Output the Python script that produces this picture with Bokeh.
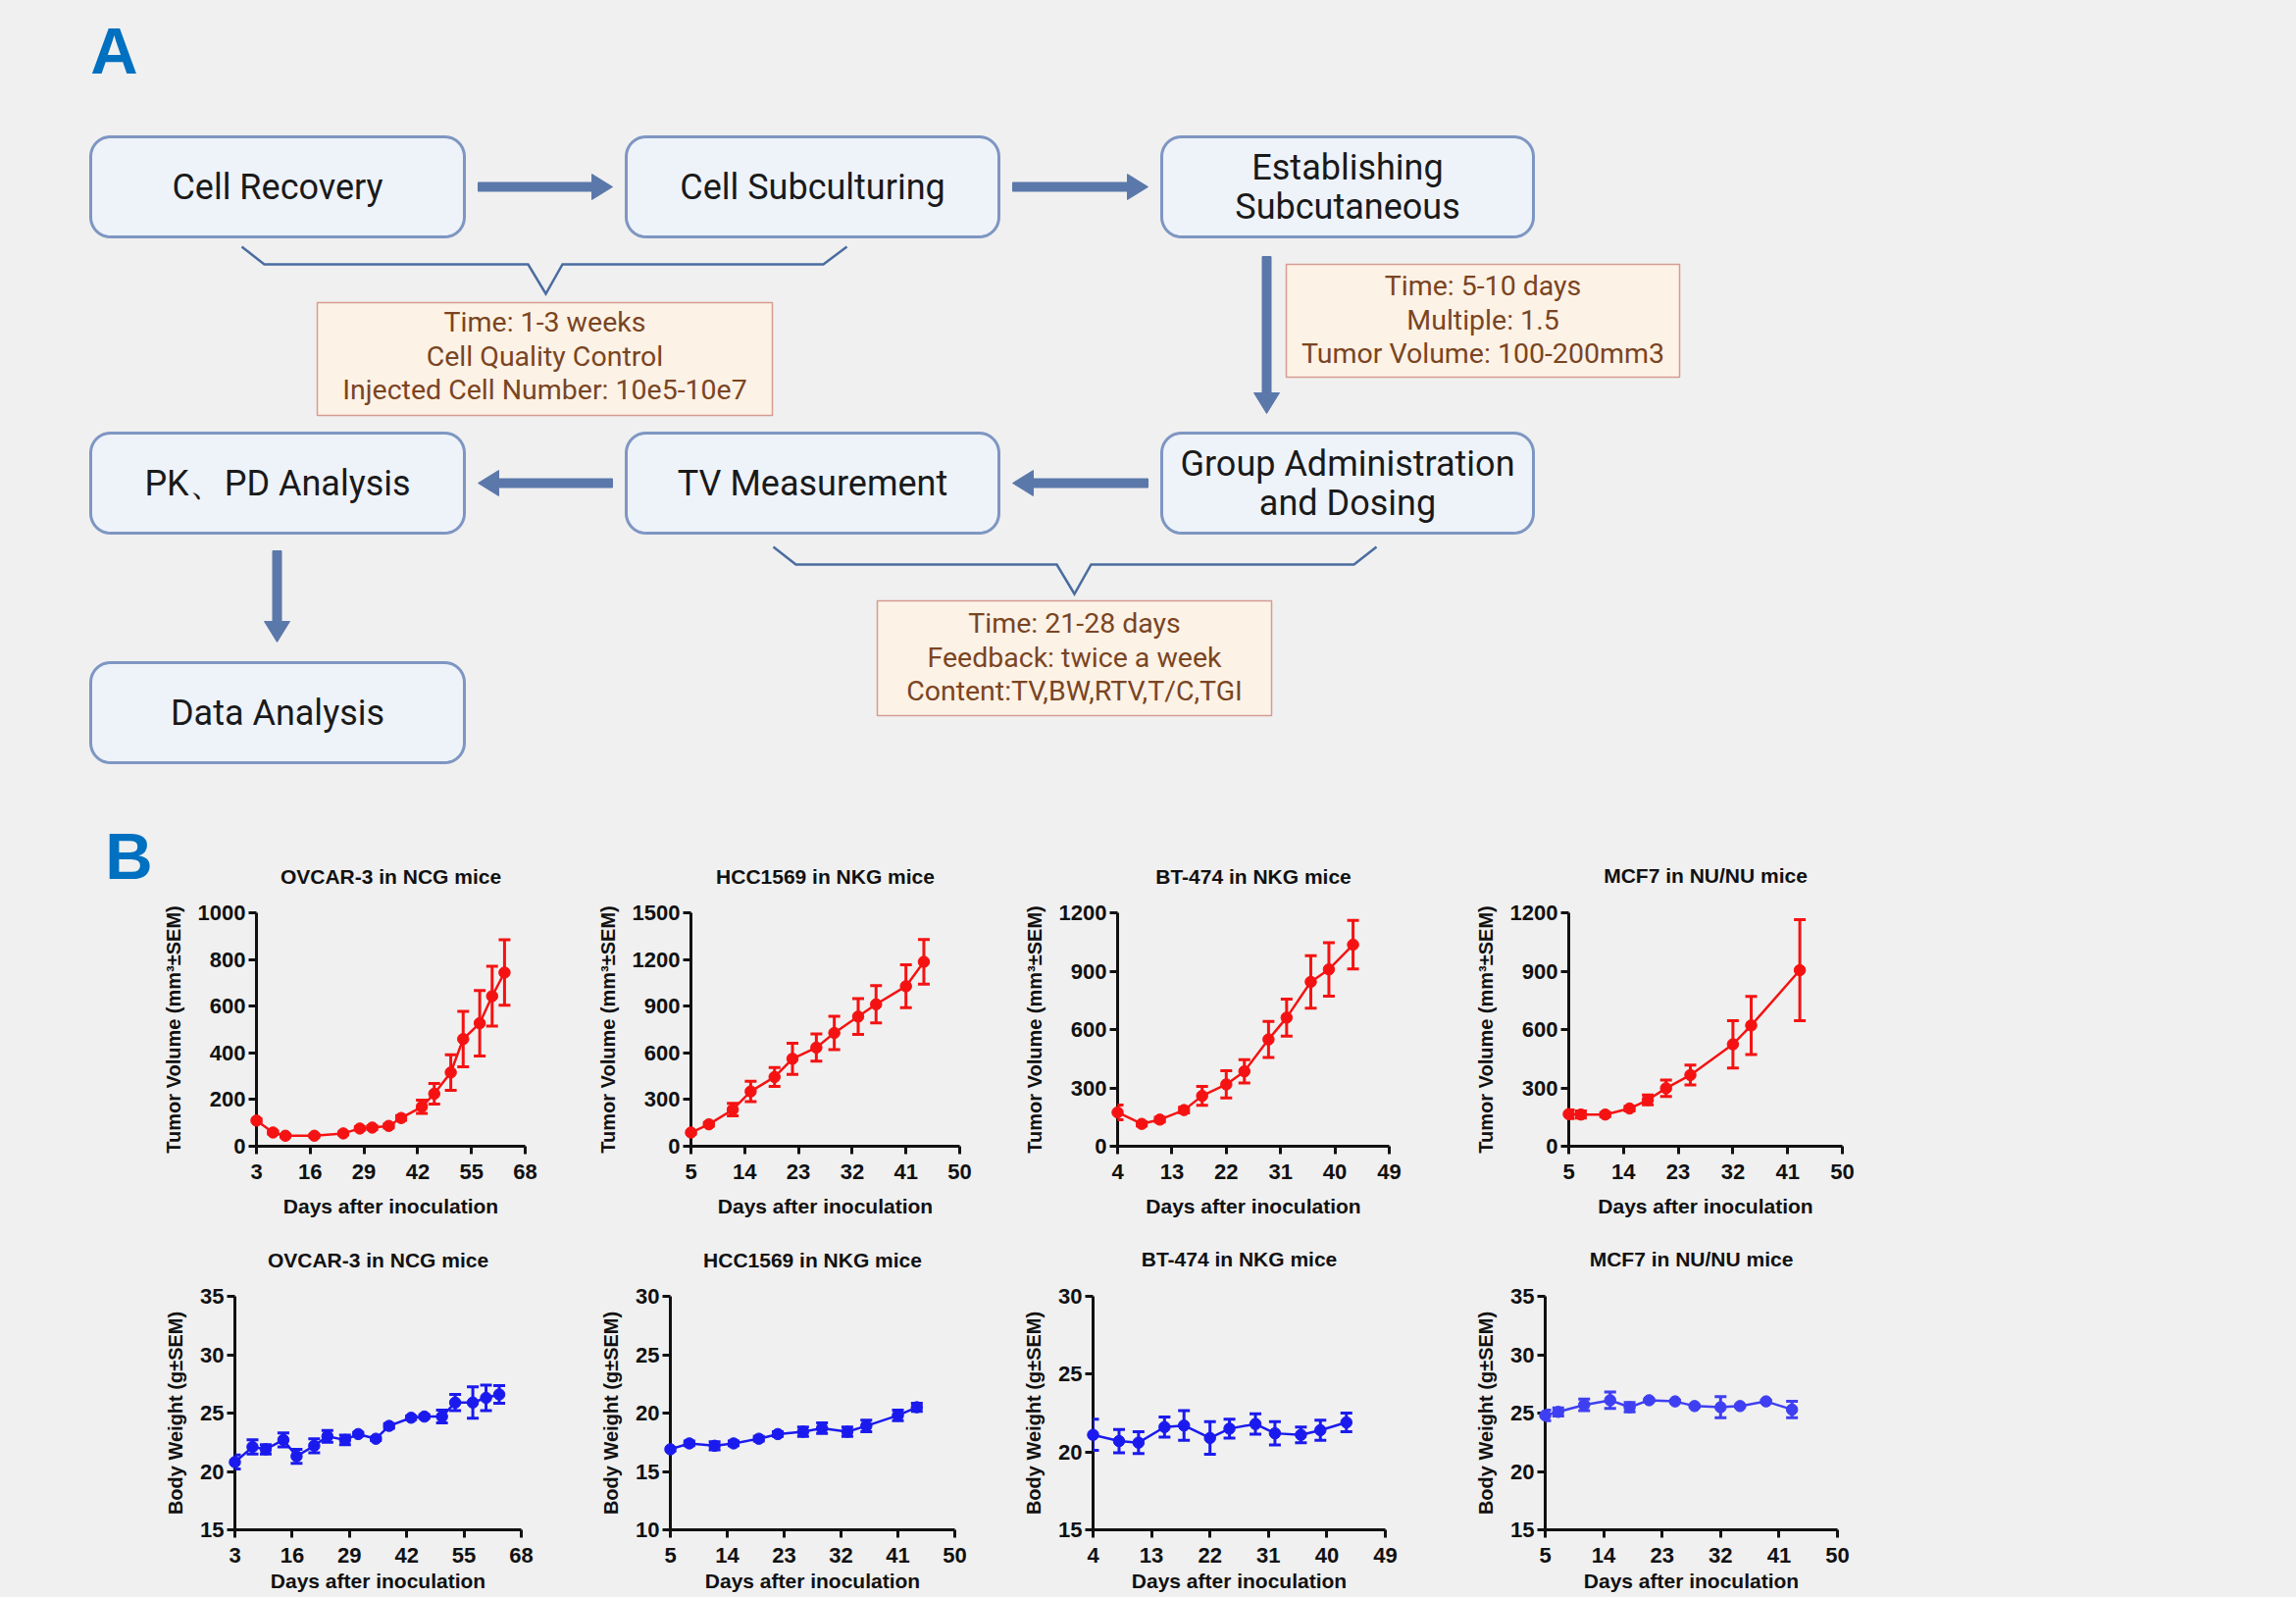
import math
from bokeh.plotting import figure
from bokeh.models import Range1d, FixedTicker, ColumnDataSource, Whisker, TeeHead
from bokeh.layouts import row, column
from bokeh.embed import file_html
from bokeh.resources import INLINE
from bokeh.core.properties import value

BG = "#F0F0F0"
CHART_FONT = "Liberation Sans"
FLOW_FONT = "Roboto"

# ------------------------------------------------------------------ data
x_label = "Days after inoculation"
tv_label = "Tumor Volume (mm³±SEM)"
bw_label = "Body Weight (g±SEM)"

titles = ["OVCAR-3 in NCG mice", "HCC1569 in NKG mice", "BT-474 in NKG mice", "MCF7 in NU/NU mice"]

ov_xticks = [3, 16, 29, 42, 55, 68]
hcc_xticks = [5, 14, 23, 32, 41, 50]
bt_xticks = [4, 13, 22, 31, 40, 49]
mcf_xticks = [5, 14, 23, 32, 41, 50]

ov_tv_yticks = [0, 200, 400, 600, 800, 1000]
hcc_tv_yticks = [0, 300, 600, 900, 1200, 1500]
bt_tv_yticks = [0, 300, 600, 900, 1200]
mcf_tv_yticks = [0, 300, 600, 900, 1200]

ov_bw_yticks = [15, 20, 25, 30, 35]
hcc_bw_yticks = [10, 15, 20, 25, 30]
bt_bw_yticks = [15, 20, 25, 30]
mcf_bw_yticks = [15, 20, 25, 30, 35]

ov_tv_days = [3, 7, 10, 17, 24, 28, 31, 35, 38, 43, 46, 50, 53, 57, 60, 63]
ov_tv_mean = [110, 59, 45, 45, 55, 76, 80, 87, 121, 169, 225, 316, 459, 527, 643, 744]
ov_tv_sem = [8, 6, 5, 5, 6, 7, 7, 8, 10, 28, 44, 76, 119, 140, 128, 140]

hcc_tv_days = [5, 8, 12, 15, 19, 22, 26, 29, 33, 36, 41, 44]
hcc_tv_mean = [88, 141, 235, 352, 445, 562, 634, 728, 833, 912, 1028, 1185]
hcc_tv_sem = [10, 12, 40, 65, 60, 100, 88, 107, 115, 120, 138, 144]

bt_tv_days = [4, 8, 11, 15, 18, 22, 25, 29, 32, 36, 39, 43]
bt_tv_mean = [174, 115, 137, 186, 259, 318, 385, 549, 661, 845, 909, 1036]
bt_tv_sem = [38, 10, 12, 15, 48, 70, 60, 93, 95, 135, 137, 125]

mcf_tv_days = [5, 7, 11, 15, 18, 21, 25, 32, 35, 43]
mcf_tv_mean = [165, 163, 163, 194, 238, 298, 366, 524, 621, 905]
mcf_tv_sem = [22, 18, 10, 12, 25, 42, 51, 122, 149, 260]

ov_bw_days = [3, 7, 10, 14, 17, 21, 24, 28, 31, 35, 38, 43, 46, 50, 53, 57, 60, 63]
ov_bw_mean = [20.8, 22.1, 21.9, 22.7, 21.3, 22.2, 23.0, 22.7, 23.2, 22.8, 23.9, 24.6, 24.7, 24.7, 25.9, 25.9, 26.3, 26.6]
ov_bw_sem = [0.6, 0.6, 0.4, 0.6, 0.6, 0.6, 0.5, 0.4, 0.15, 0.15, 0.2, 0.15, 0.15, 0.55, 0.7, 1.35, 1.1, 0.75]

hcc_bw_days = [5, 8, 12, 15, 19, 22, 26, 29, 33, 36, 41, 44]
hcc_bw_mean = [16.9, 17.4, 17.2, 17.4, 17.8, 18.2, 18.4, 18.7, 18.4, 18.9, 19.8, 20.5]
hcc_bw_sem = [0.15, 0.2, 0.35, 0.2, 0.2, 0.2, 0.4, 0.45, 0.4, 0.5, 0.45, 0.35]

bt_bw_days = [4, 8, 11, 15, 18, 22, 25, 29, 32, 36, 39, 43]
bt_bw_mean = [21.1, 20.7, 20.6, 21.6, 21.7, 20.9, 21.5, 21.8, 21.2, 21.1, 21.4, 21.9]
bt_bw_sem = [1.0, 0.75, 0.7, 0.65, 0.95, 1.05, 0.6, 0.65, 0.75, 0.5, 0.65, 0.6]

mcf_bw_days = [5, 7, 11, 15, 18, 21, 25, 28, 32, 35, 39, 43]
mcf_bw_mean = [24.8, 25.1, 25.7, 26.1, 25.5, 26.1, 26.0, 25.6, 25.5, 25.6, 26.0, 25.3]
mcf_bw_sem = [0.45, 0.35, 0.5, 0.7, 0.4, 0.1, 0.1, 0.1, 0.9, 0.1, 0.1, 0.7]

# ------------------------------------------------------------------ panel A content
box_labels = [["Cell Recovery"], ["Cell Subculturing"], ["Establishing", "Subcutaneous"],
              ["PK、PD Analysis"], ["TV Measurement"], ["Group Administration", "and Dosing"],
              ["Data Analysis"]]
note_lines = [["Time: 1-3 weeks", "Cell Quality Control", "Injected Cell Number: 10e5-10e7"],
              ["Time: 5-10 days", "Multiple: 1.5", "Tumor Volume: 100-200mm3"],
              ["Time: 21-28 days", "Feedback: twice a week", "Content:TV,BW,RTV,T/C,TGI"]]

# diagram geometry (page pixels)
box_x0 = [92, 638, 1184, 92, 638, 1184, 92]
box_x1 = [473, 1018, 1563, 473, 1018, 1563, 473]
box_y0 = [139, 139, 139, 441, 441, 441, 675]
box_y1 = [241, 241, 241, 543, 543, 543, 777]
arrow_segs = [(487, 190, 624, 190), (1032, 190, 1170, 190),
              (624, 492, 487, 492), (1170, 492, 1032, 492),
              (1291, 261, 1291, 421), (282, 561, 282, 654)]
brace_pts = [[(246, 251), (269, 269), (538, 269), (556, 299), (573, 269), (839, 269), (863, 251)],
             [(788, 557), (811, 575), (1077, 575), (1095, 605), (1112, 575), (1380, 575), (1403, 557)]]
note_box = [(323, 308, 787, 423), (1311, 269, 1712, 384), (894, 612, 1296, 729)]
note_line_y = [[328, 363, 397], [291, 326, 360], [635, 670, 704]]

BOX_FILL = "#EEF3FA"
BOX_LINE = "#7E96C2"
ARROW = "#5B78AA"
BRACE = "#4A6CA0"
NOTE_FILL = "#FDF2E6"
NOTE_LINE = "#D59C93"
NOTE_TEXT = "#7A4522"
LETTER = "#0070C0"


def rrect(x0, y0, x1, y1, r, n=10):
    pts = []
    corners = [(x1 - r, y0 + r, -90, 0), (x1 - r, y1 - r, 0, 90),
               (x0 + r, y1 - r, 90, 180), (x0 + r, y0 + r, 180, 270)]
    for cx, cy, a0, a1 in corners:
        for k in range(n + 1):
            a = math.radians(a0 + (a1 - a0) * k / n)
            pts.append((cx + r * math.cos(a), cy + r * math.sin(a)))
    return [p[0] for p in pts], [p[1] for p in pts]


def arrow_poly(x0, y0, x1, y1, sw=9, hw=26, hl=21):
    dx, dy = x1 - x0, y1 - y0
    L = math.hypot(dx, dy)
    ux, uy = dx / L, dy / L
    nx, ny = -uy, ux
    bx, by = x1 - ux * hl, y1 - uy * hl
    pts = [(x0 + nx * sw / 2, y0 + ny * sw / 2), (bx + nx * sw / 2, by + ny * sw / 2),
           (bx + nx * hw / 2, by + ny * hw / 2), (x1, y1),
           (bx - nx * hw / 2, by - ny * hw / 2), (bx - nx * sw / 2, by - ny * sw / 2),
           (x0 - nx * sw / 2, y0 - ny * sw / 2)]
    return [p[0] for p in pts], [p[1] for p in pts]


STY = {"background-color": BG}


def blank_fig(x0, x1, y0, y1, frame_top=None, frame_bottom=None):
    # frame_top / frame_bottom: page rows of the (row-aligned) frame edges
    ft = y0 if frame_top is None else frame_top
    fbm = y1 if frame_bottom is None else frame_bottom
    p = figure(width=x1 - x0, height=y1 - y0, x_range=Range1d(x0, x1), y_range=Range1d(fbm, ft),
               output_backend="svg", toolbar_location=None,
               min_border_left=0, min_border_right=0,
               min_border_top=ft - y0, min_border_bottom=y1 - fbm,
               x_axis_location=None, y_axis_location=None,
               background_fill_color=BG, border_fill_color=BG, outline_line_color=None,
               styles=STY)
    p.grid.visible = False
    return p


# ------------------------------------------------------------------ panel A figure
pa = blank_fig(0, 2341, 0, 830)
pa.text(x=[116], y=[51], text=["A"], text_align="center", text_baseline="middle",
        text_font=value(CHART_FONT), text_font_style="bold", text_font_size="67px", text_color=LETTER)

bx, by = [], []
for i in range(len(box_labels)):
    xs, ys = rrect(box_x0[i], box_y0[i], box_x1[i], box_y1[i], 20)
    bx.append(xs)
    by.append(ys)
pa.patches(bx, by, fill_color=BOX_FILL, line_color=BOX_LINE, line_width=3)

tx, ty, tt = [], [], []
for i, lines in enumerate(box_labels):
    cx = (box_x0[i] + box_x1[i]) / 2
    cy = (box_y0[i] + box_y1[i]) / 2
    n = len(lines)
    for k, s in enumerate(lines):
        tx.append(cx)
        ty.append(cy + (k - (n - 1) / 2) * 40)
        tt.append(s)
pa.text(x=tx, y=ty, text=tt, text_align="center", text_baseline="middle",
        text_font=value(FLOW_FONT), text_font_size="36px", text_color="#1A1A1A")

ax_, ay_ = [], []
for seg in arrow_segs:
    xs, ys = arrow_poly(*seg)
    ax_.append(xs)
    ay_.append(ys)
pa.patches(ax_, ay_, fill_color=ARROW, line_color=ARROW, line_width=1)

pa.multi_line([[q[0] for q in b] for b in brace_pts], [[q[1] for q in b] for b in brace_pts],
              line_color=BRACE, line_width=2.5, line_join="miter")

pa.quad(left=[b[0] for b in note_box], right=[b[2] for b in note_box],
        top=[b[1] for b in note_box], bottom=[b[3] for b in note_box],
        fill_color=NOTE_FILL, line_color=NOTE_LINE, line_width=1.5)
nx_, ny_, nt_ = [], [], []
for i, lines in enumerate(note_lines):
    cx = (note_box[i][0] + note_box[i][2]) / 2
    for k, s in enumerate(lines):
        nx_.append(cx)
        ny_.append(note_line_y[i][k])
        nt_.append(s)
pa.text(x=nx_, y=ny_, text=nt_, text_align="center", text_baseline="middle",
        text_font=value(FLOW_FONT), text_font_size="28.5px", text_color=NOTE_TEXT)


# ------------------------------------------------------------------ charts
def free_text(p, x, y, s, size):
    # text outside the frame: drawn on the overlay level so it is not clipped
    p.text(x=[x], y=[y], text=[s], text_align="center", text_baseline="middle",
           text_font=value(CHART_FONT), text_font_style="bold", text_font_size=size,
           text_color="#111111", level="overlay")


def make_chart(title, days, mean, sem, xticks, yticks, ylabel, color,
               fig_x, row_y, ax_box, title_y, xlabel_axis, xlabel_y=None):
    fx0, fx1 = fig_x
    ry0, ry1 = row_y
    axl, axr, axt, axb = ax_box
    p = figure(width=fx1 - fx0, height=ry1 - ry0,
               x_range=Range1d(xticks[0], xticks[-1]), y_range=Range1d(yticks[0], yticks[-1]),
               output_backend="svg", toolbar_location=None,
               min_border_left=axl - fx0, min_border_right=fx1 - axr,
               min_border_top=axt - ry0, min_border_bottom=ry1 - axb,
               background_fill_color=BG, border_fill_color=BG, outline_line_color=None,
               styles=STY)
    p.grid.visible = False
    upp = (yticks[-1] - yticks[0]) / (axb - axt)
    xmid = (xticks[0] + xticks[-1]) / 2

    free_text(p, xmid, yticks[-1] + (axt - title_y) * upp, title, "21px")

    p.xaxis.ticker = FixedTicker(ticks=xticks)
    p.yaxis.ticker = FixedTicker(ticks=yticks)
    for a in p.axis:
        a.axis_line_width = 3
        a.axis_line_color = "#111111"
        a.major_tick_line_width = 3
        a.major_tick_line_color = "#111111"
        a.major_tick_out = 8
        a.major_tick_in = 0
        a.minor_tick_line_color = None
        a.major_label_text_font = CHART_FONT
        a.major_label_text_font_style = "bold"
        a.major_label_text_font_size = "22px"
        a.major_label_text_color = "#111111"
        a.axis_label_text_font = CHART_FONT
        a.axis_label_text_font_style = "bold"
        a.axis_label_text_color = "#111111"
    p.xaxis.major_label_standoff = 10
    p.yaxis.major_label_standoff = 3
    p.yaxis.axis_label = ylabel
    p.yaxis.axis_label_text_font_size = "20px"
    p.yaxis.axis_label_standoff = 11
    if xlabel_axis:
        p.xaxis.axis_label = x_label
        p.xaxis.axis_label_text_font_size = "21px"
        p.xaxis.axis_label_standoff = 13
    else:
        free_text(p, xmid, yticks[0] - (xlabel_y - axb) * upp, x_label, "21px")

    src = ColumnDataSource(dict(x=days, y=mean,
                                upper=[m + s for m, s in zip(mean, sem)],
                                lower=[m - s for m, s in zip(mean, sem)]))
    p.line("x", "y", source=src, line_color=color, line_width=2.5, level="overlay")
    w = Whisker(source=src, base="x", upper="upper", lower="lower", dimension="height",
                line_color=color, line_width=3, level="overlay",
                upper_head=TeeHead(size=12, line_color=color, line_width=3),
                lower_head=TeeHead(size=12, line_color=color, line_width=3))
    p.add_layout(w)
    p.scatter("x", "y", source=src, size=11.5, fill_color=color, line_color=color, level="overlay")
    return p


RED = "#F51212"
BLUE = "#1A1AEE"
BLUE2 = "#3F3FF2"

TOP = (830, 1255)
BOT = (1255, 1628)
# frames in one row are aligned by the layout, so each row shares its frame top/bottom
TOP_FT, TOP_FB = 930, 1168
BOT_FT, BOT_FB = 1321, 1559

c1 = make_chart(titles[0], ov_tv_days, ov_tv_mean, ov_tv_sem, ov_xticks, ov_tv_yticks, tv_label, RED,
                (160, 600), TOP, (261, 535, TOP_FT, TOP_FB), 893, True)
c2 = make_chart(titles[1], hcc_tv_days, hcc_tv_mean, hcc_tv_sem, hcc_xticks, hcc_tv_yticks, tv_label, RED,
                (600, 1040), TOP, (704, 978, TOP_FT, TOP_FB), 893, True)
c3 = make_chart(titles[2], bt_tv_days, bt_tv_mean, bt_tv_sem, bt_xticks, bt_tv_yticks, tv_label, RED,
                (1040, 1500), TOP, (1134, 1416, TOP_FT, TOP_FB), 893, True)
c4 = make_chart(titles[3], mcf_tv_days, mcf_tv_mean, mcf_tv_sem, mcf_xticks, mcf_tv_yticks, tv_label, RED,
                (1500, 1910), TOP, (1597, 1878, TOP_FT, TOP_FB), 892, True)

c5 = make_chart(titles[0], ov_bw_days, ov_bw_mean, ov_bw_sem, ov_xticks, ov_bw_yticks, bw_label, BLUE,
                (160, 600), BOT, (239, 531, BOT_FT, BOT_FB), 1284, False, 1611)
c6 = make_chart(titles[1], hcc_bw_days, hcc_bw_mean, hcc_bw_sem, hcc_xticks, hcc_bw_yticks, bw_label, BLUE,
                (600, 1040), BOT, (683, 973, BOT_FT, BOT_FB), 1284, False, 1611)
c7 = make_chart(titles[2], bt_bw_days, bt_bw_mean, bt_bw_sem, bt_xticks, bt_bw_yticks, bw_label, BLUE,
                (1040, 1500), BOT, (1114, 1412, BOT_FT, BOT_FB), 1283, False, 1611)
c8 = make_chart(titles[3], mcf_bw_days, mcf_bw_mean, mcf_bw_sem, mcf_xticks, mcf_bw_yticks, bw_label, BLUE2,
                (1500, 1910), BOT, (1575, 1873, BOT_FT, BOT_FB), 1283, False, 1611)

fb = blank_fig(0, 160, TOP[0], TOP[1], TOP_FT, TOP_FB)
fb.text(x=[131], y=[872], text=["B"], text_align="center", text_baseline="middle",
        text_font=value(CHART_FONT), text_font_style="bold", text_font_size="67px",
        text_color=LETTER, level="overlay")
fr1 = blank_fig(1910, 2341, TOP[0], TOP[1], TOP_FT, TOP_FB)
fl2 = blank_fig(0, 160, BOT[0], BOT[1], BOT_FT, BOT_FB)
fr2 = blank_fig(1910, 2341, BOT[0], BOT[1], BOT_FT, BOT_FB)

layout = column(pa, row(fb, c1, c2, c3, c4, fr1, styles=STY),
                row(fl2, c5, c6, c7, c8, fr2, styles=STY), styles=STY)

html = file_html(layout, INLINE)
html = html.replace("<body>", '<body style="background-color:#F0F0F0;">', 1)
open("out.html", "w").write(html)
